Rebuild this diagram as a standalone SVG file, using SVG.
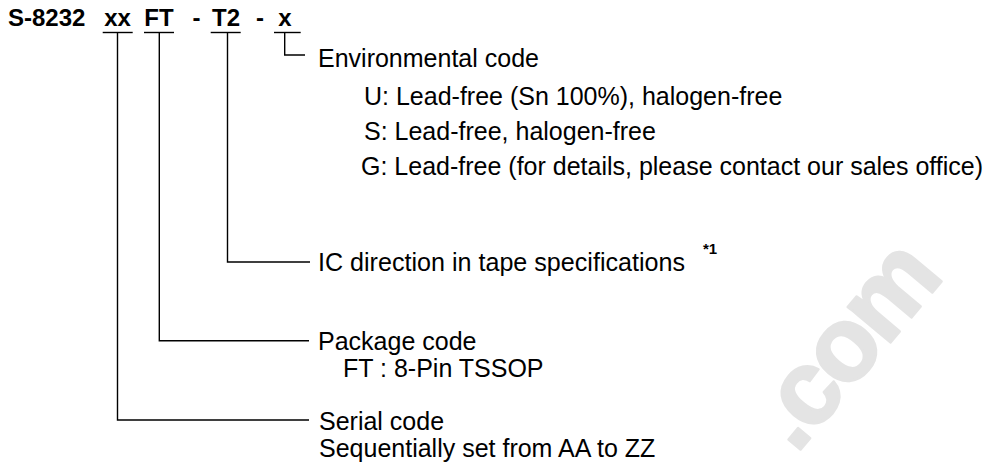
<svg xmlns="http://www.w3.org/2000/svg" width="992" height="469" viewBox="0 0 992 469">
<style>
.t{font-family:"Liberation Sans",Arial,sans-serif;font-size:25px;fill:#000}
.b{font-family:"Liberation Sans",Arial,sans-serif;font-size:24px;font-weight:bold;fill:#000}
.sup{font-family:"Liberation Sans",Arial,sans-serif;font-size:15px;font-weight:bold;fill:#000}
.wm{font-family:"Liberation Sans",Arial,sans-serif;font-size:105px;font-weight:bold;letter-spacing:-4px;fill:#e4e4e4;stroke:#e4e4e4;stroke-width:2.5;stroke-linejoin:round}
.ln{stroke:#000;stroke-width:1.4;fill:none}
</style>
<rect width="992" height="469" fill="#fff"/>
<g id="watermark"><text class="wm" transform="translate(796,455) rotate(-50)">.com</text></g>
<g id="title">
<text class="b" x="8" y="26">S-8232</text>
<text class="b" x="117.5" y="26" text-anchor="middle">xx</text>
<text class="b" x="159" y="26" text-anchor="middle">FT</text>
<text class="b" x="196.5" y="26" text-anchor="middle">-</text>
<text class="b" x="226" y="26" text-anchor="middle">T2</text>
<text class="b" x="260" y="26" text-anchor="middle">-</text>
<text class="b" x="285" y="26" text-anchor="middle">x</text>
</g>
<g id="connectors">
<line class="ln" x1="102.7" y1="32.5" x2="132.7" y2="32.5"/>
<line class="ln" x1="144" y1="32.5" x2="174" y2="32.5"/>
<line class="ln" x1="210.7" y1="32.5" x2="240.7" y2="32.5"/>
<line class="ln" x1="274" y1="32.5" x2="300.7" y2="32.5"/>
<polyline class="ln" points="117.5,32.5 117.5,420 309,420"/>
<polyline class="ln" points="159.3,32.5 159.3,340.7 309,340.7"/>
<polyline class="ln" points="227.5,32.5 227.5,262 310,262"/>
<polyline class="ln" points="284.7,32.5 284.7,55 305,55"/>
</g>
<g id="env">
<text class="t" x="318" y="67">Environmental code</text>
<text class="t" x="364" y="105">U: Lead-free (Sn 100%), halogen-free</text>
<text class="t" x="364" y="140">S: Lead-free, halogen-free</text>
<text class="t" x="361" y="175">G: Lead-free (for details, please contact our sales office)</text>
</g>
<g id="ic">
<text class="t" x="318" y="271" textLength="367" lengthAdjust="spacingAndGlyphs">IC direction in tape specifications</text>
<text class="sup" x="703" y="254">*1</text>
</g>
<g id="package">
<text class="t" x="318" y="350">Package code</text>
<text class="t" x="343" y="377">FT : 8-Pin TSSOP</text>
</g>
<g id="serial">
<text class="t" x="319" y="430">Serial code</text>
<text class="t" x="319" y="457">Sequentially set from AA to ZZ</text>
</g>
</svg>
